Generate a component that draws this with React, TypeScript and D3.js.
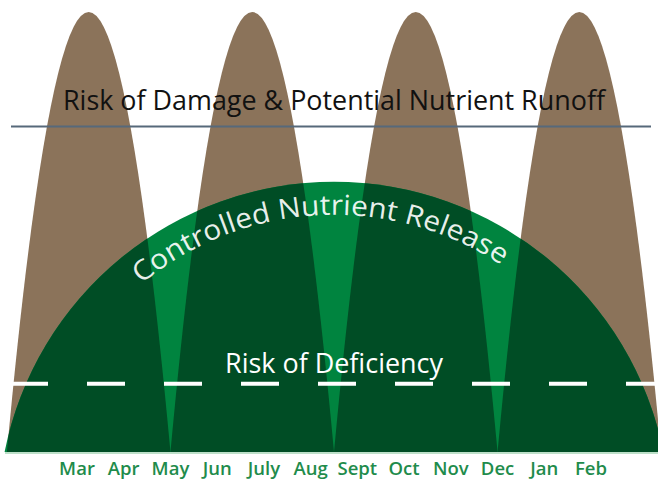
import * as d3 from 'd3';
import React from 'react';

const months = ['Mar', 'Apr', 'May', 'Jun', 'July', 'Aug', 'Sept', 'Oct', 'Nov', 'Dec', 'Jan', 'Feb'];

// application pulses (in month units) and their peak level
const archStart = [-1.5, 2, 5.5, 9];
const archEnd = [2, 5.5, 9, 12.5];
const archPeak = [100, 100, 100, 100];

// controlled release dome
const domeStart = -1.55;
const domeEnd = 12.55;
const domePeak = 61.4;

const damageLevel = 74;
const deficiencyLevel = 15.5;

const width = 658;
const height = 482;

const BROWN = '#8b735a';
const GREEN = '#00843f';
const DARK = '#004d25';
const FONT = '"Open Sans", "Noto Sans", sans-serif';

const App = () => {
  const x = d3.scaleLinear().domain([0, months.length - 1]).range([77, 591]);
  const y = d3.scaleLinear().domain([0, 100]).range([452, 12]);

  const archPath = (i: number) => {
    const p = d3.path();
    const x0 = x(archStart[i]);
    const x1 = x(archEnd[i]);
    const xm = (x0 + x1) / 2;
    const base = y(0);
    const top = y(archPeak[i]);
    p.moveTo(x0, base);
    p.quadraticCurveTo(xm, 2 * top - base, x1, base);
    p.closePath();
    return p.toString();
  };

  // circle through the two base points and the peak
  const dx0 = x(domeStart);
  const dx1 = x(domeEnd);
  const base = y(0);
  const dTop = y(domePeak);
  const halfW = (dx1 - dx0) / 2;
  const h = base - dTop;
  const R = (halfW * halfW + h * h) / (2 * h);
  const cx = (dx0 + dx1) / 2;
  const cy = dTop + R;

  const dome = d3.path();
  const aL = Math.atan2(base - cy, dx0 - cx);
  const aR = Math.atan2(base - cy, dx1 - cx);
  dome.moveTo(dx0, base);
  dome.arc(cx, cy, R, aL, aR, false);
  dome.closePath();

  const rText = R - 33;
  const tA0 = (-129.5 * Math.PI) / 180;
  const tA1 = (-56.5 * Math.PI) / 180;
  const textArc = d3.path();
  textArc.moveTo(cx + rText * Math.cos(tA0), cy + rText * Math.sin(tA0));
  textArc.arc(cx, cy, rText, tA0, tA1, false);
  const arcLen = rText * (tA1 - tA0);

  const yDamage = y(damageLevel);
  const yDef = y(deficiencyLevel);

  return (
    <div style={{ position: 'fixed', left: 0, top: 0 }}>
      <svg width={width} height={height} style={{ display: 'block', background: '#fff' }}>
        <defs>
          <clipPath id="domeClip">
            <path d={dome.toString()} />
          </clipPath>
          <path id="releaseArc" d={textArc.toString()} />
        </defs>

        {archStart.map((_, i) => (
          <path key={`a${i}`} d={archPath(i)} fill={BROWN} />
        ))}

        <path d={dome.toString()} fill={GREEN} />
        <g clipPath="url(#domeClip)">
          {archStart.map((_, i) => (
            <path key={`d${i}`} d={archPath(i)} fill={DARK} />
          ))}
        </g>

        <line x1={5} x2={658} y1={base + 1} y2={base + 1} stroke="#7cc193" strokeWidth={1.2} />

        <line x1={11} x2={651} y1={yDamage} y2={yDamage} stroke="#56697a" strokeWidth={2} />
        <text
          x={334}
          y={yDamage - 16}
          textAnchor="middle"
          fontFamily={FONT}
          fontSize={27}
          fill="#111"
          textLength={542}
          lengthAdjust="spacingAndGlyphs"
        >
          Risk of Damage &amp; Potential Nutrient Runoff
        </text>

        <line
          x1={10}
          x2={658}
          y1={yDef}
          y2={yDef}
          stroke="#fff"
          strokeWidth={4}
          strokeDasharray="38 39"
        />
        <text
          x={334}
          y={yDef - 11}
          textAnchor="middle"
          fontFamily={FONT}
          fontSize={27}
          fill="#fff"
          textLength={218}
          lengthAdjust="spacingAndGlyphs"
        >
          Risk of Deficiency
        </text>

        <text fontFamily={FONT} fontSize={28} fill="#fff" fillOpacity={0.92}>
          <textPath href="#releaseArc" textLength={arcLen} lengthAdjust="spacingAndGlyphs">
            Controlled Nutrient Release
          </textPath>
        </text>

        {months.map((m, i) => (
          <text
            key={m}
            x={x(i)}
            y={475}
            textAnchor="middle"
            fontFamily={FONT}
            fontSize={18.5}
            fontWeight={600}
            fill="#1f8c4c"
          >
            {m}
          </text>
        ))}
      </svg>
    </div>
  );
};

export default App;
